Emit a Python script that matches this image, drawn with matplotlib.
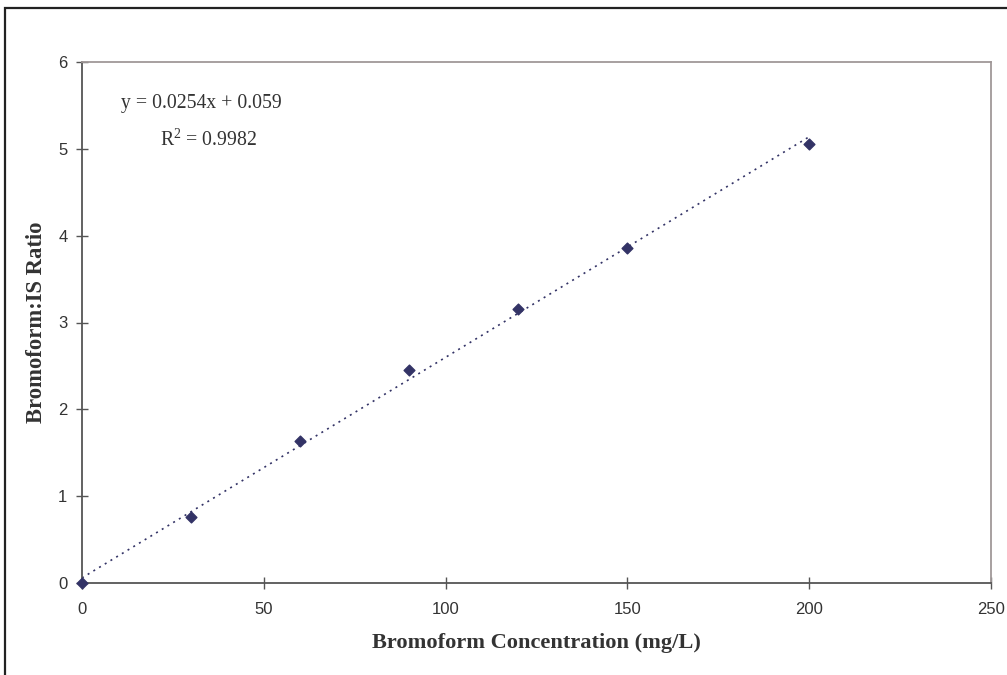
import matplotlib.pyplot as plt
import numpy as np
from matplotlib.patches import Rectangle

# calibration standards
conc = [0, 30, 60, 90, 120, 150, 200]
ratio = [0.0, 0.76, 1.63, 2.45, 3.16, 3.86, 5.06]

slope = 0.0254
intercept = 0.059
r2 = 0.9982

x_ticks = [0, 50, 100, 150, 200, 250]
y_ticks = [0, 1, 2, 3, 4, 5, 6]

navy = "#333366"

plt.rcParams["mathtext.fontset"] = "custom"
plt.rcParams["mathtext.rm"] = "Liberation Serif"
plt.rcParams["mathtext.default"] = "regular"

fig = plt.figure(figsize=(10.07, 6.75), dpi=100)
W, H = 1007, 675
ax = fig.add_axes([82 / W, 1 - 583 / H, (991 - 82) / W, (583 - 62) / H])

# outer chart frame
fig.patches.append(Rectangle((5 / W, -0.05), 1.2, 1 - 8 / H + 0.05,
                             transform=fig.transFigure, fill=False,
                             edgecolor="#222222", linewidth=1.6))

# trendline
fx = np.array([conc[0], conc[-1]])
ax.plot(fx, slope * fx + intercept, linestyle=(0, (1.2, 2.8)),
        color=navy, linewidth=1.2, zorder=2)
ax.scatter(conc, ratio, marker="D", s=30, color=navy, zorder=3,
           clip_on=False)

ax.set_xlim(0, 250)
ax.set_ylim(0, 6)
ax.set_xticks(x_ticks)
ax.set_yticks(y_ticks)

for side in ["left", "bottom"]:
    ax.spines[side].set_color("#555555")
    ax.spines[side].set_linewidth(1.3)
for side in ["top", "right"]:
    ax.spines[side].set_color("#a09898")
    ax.spines[side].set_linewidth(1.3)

ax.tick_params(direction="inout", length=9, width=1, color="#555555",
               labelsize=12, labelcolor="#333333")
ax.tick_params(axis="x", pad=9)
ax.tick_params(axis="y", pad=6)
for lab in ax.get_xticklabels() + ax.get_yticklabels():
    lab.set_family("Liberation Sans")

ax.set_xlabel("Bromoform Concentration (mg/L)", family="Liberation Serif",
              fontweight="bold", fontsize=16.1, color="#333333", labelpad=12)
ax.set_ylabel("Bromoform:IS Ratio", family="Liberation Serif",
              fontweight="bold", fontsize=16.3, color="#333333", labelpad=8)

ax.text(0.043, 0.921, f"y = {slope}x + {intercept}", transform=ax.transAxes,
        family="Liberation Serif", fontsize=14.2, color="#333333",
        va="center")
ax.text(0.086, 0.850, f"R$^{{2}}$ = {r2}", transform=ax.transAxes,
        family="Liberation Serif", fontsize=14.2, color="#333333",
        va="center")

fig.savefig("out.png", dpi=100)
